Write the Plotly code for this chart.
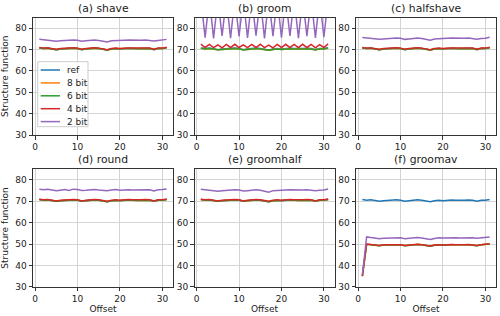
import plotly.graph_objects as go

offsets = list(range(1, 32))

series_names = ["ref", "8 bit", "6 bit", "4 bit", "2 bit"]
colors = ["#1f77b4", "#ff7f0e", "#2ca02c", "#d62728", "#9467bd"]
panel_titles = ["(a) shave", "(b) groom", "(c) halfshave", "(d) round", "(e) groomhalf", "(f) groomav"]
x_ticks = [0, 10, 20, 30]
y_ticks = [30, 40, 50, 60, 70, 80]

ref = [70.8, 70.5, 70.7, 70.3, 70.0, 70.3, 70.5, 70.4, 70.7, 70.5, 70.0, 70.3, 70.5, 70.7, 70.5, 70.2,
       69.8, 70.3, 70.5, 70.3, 70.5, 70.6, 70.5, 70.4, 70.5, 70.6, 70.5, 70.0, 70.5, 70.5, 70.9]
quant_close = [70.8, 70.5, 70.6, 70.3, 70.0, 70.3, 70.5, 70.4, 70.6, 70.5, 70.1, 70.3, 70.5, 70.6, 70.5, 70.2,
               69.8, 70.3, 70.5, 70.4, 70.5, 70.6, 70.5, 70.4, 70.5, 70.6, 70.5, 70.1, 70.5, 70.5, 70.9]
quant_4bit = [71.0, 70.7, 70.8, 70.5, 70.2, 70.5, 70.7, 70.6, 70.9, 70.7, 70.2, 70.5, 70.7, 70.9, 70.7, 70.4,
              70.0, 70.5, 70.7, 70.5, 70.7, 70.8, 70.7, 70.6, 70.7, 70.8, 70.7, 70.2, 70.7, 70.7, 71.1]

shave_2bit = [74.8, 74.5, 74.4, 74.2, 73.9, 74.1, 74.3, 74.2, 74.5, 74.4, 73.9, 74.1, 74.3, 74.5, 74.3, 74.0,
              73.6, 74.1, 74.3, 74.3, 74.4, 74.5, 74.4, 74.3, 74.4, 74.5, 74.4, 74.0, 74.3, 74.4, 74.8]

groom_6bit = [70.6, 70.3, 70.5, 70.1, 69.9, 70.1, 70.3, 70.2, 70.5, 70.3, 69.9, 70.1, 70.3, 70.5, 70.3, 70.0,
              69.7, 70.1, 70.3, 70.1, 70.3, 70.4, 70.3, 70.2, 70.3, 70.4, 70.3, 69.9, 70.3, 70.3, 70.7]
groom_4bit = [72.6, 71.0, 72.4, 70.9, 72.2, 70.8, 72.4, 71.0, 72.5, 71.0, 72.2, 70.9, 72.4, 71.0, 72.5, 70.9,
              72.1, 70.8, 72.4, 71.0, 72.5, 71.0, 72.4, 70.9, 72.5, 71.0, 72.4, 70.8, 72.3, 71.0, 72.7]
groom_2bit = [94.0, 75.6, 94.0, 75.3, 94.0, 76.4, 94.0, 75.4, 94.0, 76.2, 94.0, 75.5, 94.0, 76.5, 94.0, 75.3,
              94.0, 76.3, 94.0, 75.6, 94.0, 76.4, 94.0, 75.4, 94.0, 76.3, 94.0, 75.5, 94.0, 75.8, 94.0]

halfshave_2bit = [75.7, 75.4, 75.3, 75.1, 74.8, 75.0, 75.2, 75.1, 75.4, 75.3, 74.8, 75.0, 75.2, 75.4, 75.2, 74.9,
                  74.4, 75.0, 75.2, 75.2, 75.3, 75.4, 75.3, 75.2, 75.3, 75.4, 75.3, 74.9, 75.2, 75.3, 75.8]

round_2bit = [75.7, 75.4, 75.7, 75.2, 74.9, 75.2, 75.5, 75.1, 75.7, 75.5, 75.1, 75.2, 75.4, 75.5, 75.3, 75.2,
              75.0, 75.3, 75.5, 75.2, 75.4, 75.4, 75.3, 75.4, 75.4, 75.4, 75.4, 74.9, 75.4, 75.5, 75.8]

groomhalf_2bit = [75.7, 75.4, 75.3, 75.1, 74.7, 75.0, 75.2, 75.1, 75.4, 75.3, 74.8, 75.0, 75.2, 75.4, 75.2, 74.8,
                  74.3, 75.0, 75.2, 75.2, 75.3, 75.4, 75.3, 75.2, 75.3, 75.4, 75.3, 74.9, 75.2, 75.3, 75.8]

groomav_6bit = [35.0, 49.9, 49.7, 49.5, 49.2, 49.5, 49.6, 49.5, 49.8, 49.6, 49.2, 49.4, 49.6, 49.8, 49.6, 49.3,
                49.0, 49.4, 49.6, 49.4, 49.6, 49.7, 49.6, 49.5, 49.6, 49.7, 49.6, 49.2, 49.6, 49.7, 50.0]
groomav_4bit = [35.0, 50.0, 49.8, 49.6, 49.3, 49.6, 49.7, 49.6, 49.9, 49.7, 49.3, 49.5, 49.7, 49.9, 49.7, 49.4,
                49.1, 49.5, 49.7, 49.5, 49.7, 49.8, 49.7, 49.6, 49.7, 49.8, 49.7, 49.3, 49.7, 49.8, 50.1]
groomav_2bit = [35.5, 53.3, 53.0, 52.8, 52.5, 52.7, 52.8, 52.7, 53.0, 52.9, 52.5, 52.7, 52.9, 53.0, 52.8, 52.5,
                52.1, 52.6, 52.9, 52.8, 52.9, 53.0, 52.9, 52.8, 52.9, 53.0, 52.9, 52.7, 52.9, 53.0, 53.3]

panels = [
    [ref, quant_close, quant_close, quant_4bit, shave_2bit],
    [ref, groom_6bit, groom_6bit, groom_4bit, groom_2bit],
    [ref, quant_close, quant_close, quant_4bit, halfshave_2bit],
    [ref, quant_close, quant_close, quant_4bit, round_2bit],
    [ref, quant_close, quant_close, quant_4bit, groomhalf_2bit],
    [ref, groomav_6bit, groomav_6bit, groomav_4bit, groomav_2bit],
]

FONT = "DejaVu Sans"
TXT = "#222222"
W, H = 500, 316
ml, mr, mt, mb = 33, 4, 17, 29
pw = W - ml - mr
ph = H - mt - mb


def px_x(px):
    return (px - ml) / pw


def px_y(py):
    return ((H - mb) - py) / ph


col_px = [(33, 173), (194.5, 334.5), (356, 496)]
row_px = [(17.6, 135), (169.3, 286.7)]
xdoms = [(px_x(a), px_x(b)) for a, b in col_px]
ydoms = [(px_y(b), px_y(a)) for a, b in row_px]

fig = go.Figure()
for p, data in enumerate(panels):
    r, c = divmod(p, 3)
    idx = p + 1
    xa = "x" if idx == 1 else f"x{idx}"
    ya = "y" if idx == 1 else f"y{idx}"
    for name, col, vals in zip(series_names, colors, data):
        fig.add_trace(go.Scatter(x=offsets, y=vals, mode="lines", name=name,
                                 line=dict(color=col, width=1.5),
                                 showlegend=False, xaxis=xa, yaxis=ya))
    axcommon = dict(showline=True, mirror=True, linecolor="#333333", linewidth=1,
                    ticks="outside", ticklen=3.5, tickcolor="#333333", tickwidth=1,
                    showgrid=True, gridcolor="#d4d4d4", gridwidth=1, zeroline=False,
                    tickfont=dict(family=FONT, size=9, color=TXT))
    xkey = "xaxis" if idx == 1 else f"xaxis{idx}"
    ykey = "yaxis" if idx == 1 else f"yaxis{idx}"
    fig.layout[xkey] = dict(domain=xdoms[c], anchor=ya, range=[-0.5, 32.5], tickvals=x_ticks, **axcommon)
    fig.layout[ykey] = dict(domain=ydoms[r], anchor=xa, range=[30, 85], tickvals=y_ticks, **axcommon)
    if r == 1:
        fig.layout[xkey].title = dict(text="Offset", font=dict(family=FONT, size=9, color=TXT), standoff=2)
    if c == 0:
        fig.layout[ykey].title = dict(text="Structure function", font=dict(family=FONT, size=9, color=TXT), standoff=5)
    fig.add_annotation(text=panel_titles[p], xref="paper", yref="paper",
                       x=(xdoms[c][0] + xdoms[c][1]) / 2, y=ydoms[r][1],
                       xanchor="center", yanchor="bottom", yshift=1, showarrow=False,
                       font=dict(family=FONT, size=10.8, color=TXT))

# legend box (matplotlib style) in panel (a)
fig.add_shape(type="rect", xref="paper", yref="paper",
              x0=px_x(37.7), x1=px_x(88), y0=px_y(126.7), y1=px_y(61.7),
              line=dict(color="#cccccc", width=1), fillcolor="rgba(255,255,255,0.8)", layer="above")
for i, (name, col) in enumerate(zip(series_names, colors)):
    yc = 70 + i * 12.9
    fig.add_shape(type="line", xref="paper", yref="paper",
                  x0=px_x(40.7), x1=px_x(60), y0=px_y(yc), y1=px_y(yc),
                  line=dict(color=col, width=1.5), layer="above")
    fig.add_annotation(text=name, xref="paper", yref="paper", x=px_x(65), y=px_y(yc),
                       xanchor="left", yanchor="middle", showarrow=False,
                       font=dict(family=FONT, size=9, color=TXT))

fig.update_layout(
    width=W, height=H, margin=dict(l=ml, r=mr, t=mt, b=mb),
    paper_bgcolor="white", plot_bgcolor="white",
    font=dict(family=FONT, size=9, color=TXT),
    showlegend=False,
)

fig.write_html("out.html", config={"displayModeBar": False},
               post_script="document.body.style.margin='0px';document.body.style.padding='0px';")
